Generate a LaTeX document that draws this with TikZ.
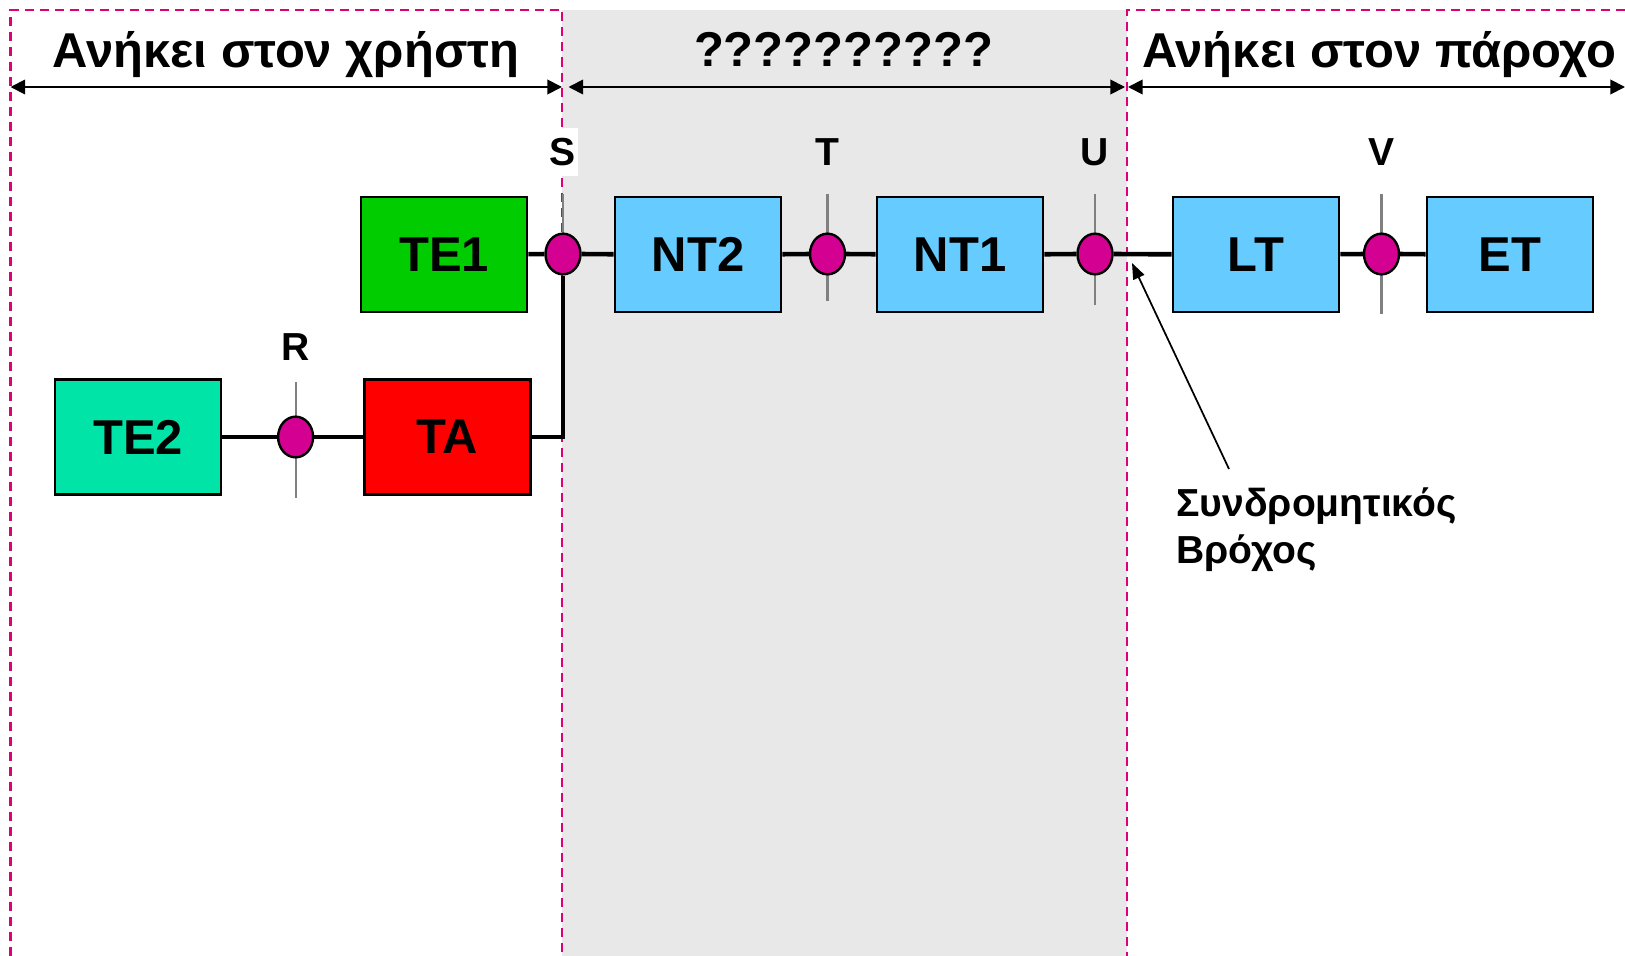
\documentclass[tikz,border=0pt]{standalone}
\usepackage{fontspec}
\setmainfont{Liberation Sans}
\usetikzlibrary{shapes.geometric,arrows.meta}

\definecolor{zonepink}{RGB}{221,0,119}
\definecolor{refmag}{RGB}{212,0,145}
\definecolor{midgray}{RGB}{232,232,232}
\definecolor{tickgray}{RGB}{128,128,128}
\definecolor{tegreen}{RGB}{0,204,0}
\definecolor{teteal}{RGB}{0,228,168}
\definecolor{ntblue}{RGB}{102,204,255}
\definecolor{tared}{RGB}{255,0,0}

\begin{document}
\begin{tikzpicture}[x=0.75pt,y=0.75pt,yscale=-1,xscale=1,
  unitbox/.style={draw=black,line width=2.2pt,minimum width=124.5pt,minimum height=86.25pt,inner sep=0pt,font=\fontsize{36.7}{40}\selectfont\bfseries},
  refpoint/.style={ellipse,draw=black,line width=1.8pt,fill=refmag,minimum width=26.25pt,minimum height=30.5pt,inner sep=0pt},
  reflabel/.style={inner sep=0pt,font=\fontsize{29.3}{32}\selectfont\bfseries},
  title/.style={inner sep=0pt,font=\fontsize{36.7}{40}\selectfont\bfseries},
  note/.style={inner sep=0pt,align=left,font=\fontsize{29.3}{35.25}\selectfont\bfseries},
  wire/.style={line width=3.5pt},
  refline/.style={draw=tickgray,line width=1.6pt},
  zone/.style={draw=zonepink,line width=1.6pt,dash pattern=on 6.75pt off 4.5pt},
  spanarrow/.style={line width=1.4pt,{Triangle[length=11pt,width=11pt]}-{Triangle[length=11pt,width=11pt]}},
  pointer/.style={line width=1.3pt,-{Triangle[length=12pt,width=9pt]}}]
\useasboundingbox (0,0) rectangle (1625,956);

%Shaded middle zone
\fill [midgray] (562,10) rectangle (1127,956);
%Dashed zone borders
\draw [zone] (10.5,956) -- (10.5,10) -- (562,10) -- (562,956);
\draw [zone] (1625,10) -- (1127,10) -- (1127,956);

%Span arrows
\draw [spanarrow] (10.5,87) -- (562,87);
\draw [spanarrow] (568.5,87) -- (1125,87);
\draw [spanarrow] (1128,87) -- (1625,87);

% Text Node
\draw (286,68) node (own) [title,anchor=base] {Ανήκει στον χρήστη};
% Text Node
\draw (843.5,67) node (unknown) [title,anchor=base] {??????????};
% Text Node
\draw (1379,68) node (prov) [title,anchor=base] {Ανήκει στον πάροχο};

%Reference point ticks
\foreach \x/\ya/\yb in {563/194/254, 827.5/194/301, 1095/194/305, 1381.5/194/314, 295.6/382/498}
  \draw [refline] (\x,\ya) -- (\x,\yb);

%Reference points
\draw (563,254) node (ptS) [refpoint] {};
\draw (827.5,254) node (ptT) [refpoint] {};
\draw (1095,254) node (ptU) [refpoint] {};
\draw (1381.5,254) node (ptV) [refpoint] {};
\draw (295.6,437) node (ptR) [refpoint] {};

%Units
\draw (444,254.5) node (TE1) [unitbox,fill=tegreen] {TE1};
\draw (698,254.5) node (NT2) [unitbox,fill=ntblue] {NT2};
\draw (960,254.5) node (NT1) [unitbox,fill=ntblue] {NT1};
\draw (1256,254.5) node (LT) [unitbox,fill=ntblue] {LT};
\draw (1510,254.5) node (ET) [unitbox,fill=ntblue] {ET};
\draw (138,437) node (TE2) [unitbox,fill=teteal] {TE2};
\draw (447.5,437) node (TA) [unitbox,fill=tared] {TA};

%Straight Lines
\foreach \a/\b in {TE1/ptS, ptS/NT2, NT2/ptT, ptT/NT1, NT1/ptU, ptU/LT, LT/ptV, ptV/ET, TE2/ptR, ptR/TA}
  \draw [wire] (\a) -- (\b);
\draw [wire] (TA.east) -| (ptS.south);

% Text Node
\draw (563,152) node (lblS) [reflabel,fill=white,minimum width=23pt,minimum height=36pt] {S};
\draw (827.5,152) node (lblT) [reflabel] {T};
\draw (1095,152) node (lblU) [reflabel] {U};
\draw (1382,152) node (lblV) [reflabel] {V};
\draw (295.6,347) node (lblR) [reflabel] {R};

% Text Node
\draw (1176,487) node (loop) [note,anchor=north west] {Συνδρομητικός\\Βρόχος};
\coordinate (loopTail) at (1229,469);
\coordinate (loopTip) at (1132,263);
\draw [pointer] (loopTail) -- (loopTip);

\end{tikzpicture}
\end{document}
